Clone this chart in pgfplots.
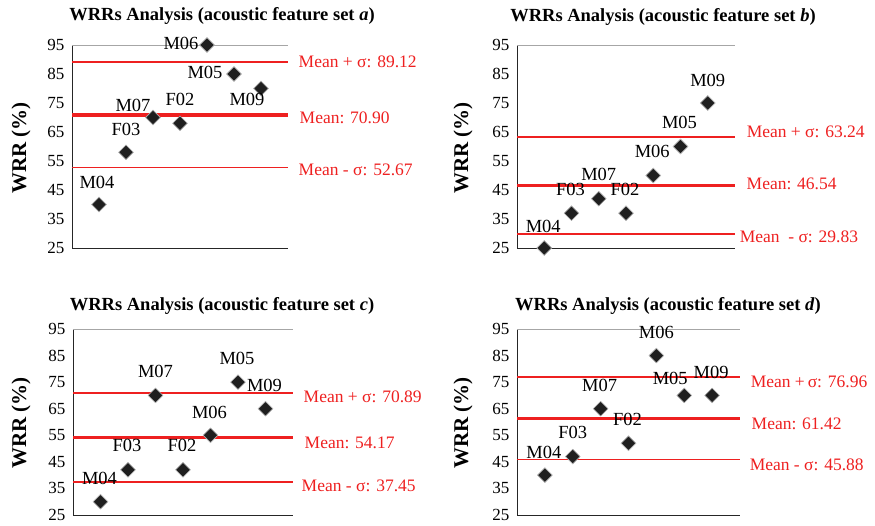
\documentclass[border=0pt]{standalone}
\usepackage{fontspec}
\setmainfont{Liberation Serif}
\usepackage{pgfplots}
\usepackage{pgfplotstable}
\pgfplotsset{compat=1.18}
\definecolor{meanred}{HTML}{EE2020}

% x = speaker slot, y = WRR, dx/dy = label offset (pt)
\pgfplotstableread{
x y lbl dx dy
1 40 M04 -2 22
2 58 F03 0 23
3 70 M07 -20 12
4 68 F02 0 24
5 95 M06 -26 2
6 85 M05 -29 2
7 80 M09 -14 -11
}\seta
\pgfplotstableread{
x y lbl dx dy
1 25 M04 -1 22
2 37 F03 -1 24
3 42 M07 0 24
4 37 F02 -1 24
5 50 M06 -1 24
6 60 M05 -1 24
7 75 M09 0 23
}\setb
\pgfplotstableread{
x y lbl dx dy
1 30 M04 -1 23
2 42 F03 -1 24
3 70 M07 0 24
4 42 F02 -1 24
5 55 M06 -1 23
6 75 M05 -1 24
7 65 M09 -1 23
}\setc
\pgfplotstableread{
x y lbl dx dy
1 40 M04 -1 23
2 47 F03 0 24
3 65 M07 -1 23
4 52 F02 -1 24
5 85 M06 0 23
6 70 M05 -14 17
7 70 M09 -1 23
}\setd

\pgfplotsset{
  wrr/.style={
    scale only axis, anchor=south west, clip=false,
    xmin=0, xmax=8, ymin=25, ymax=95,
    xtick=\empty, ytick={25,35,...,95},
    axis x line*=bottom, axis y line*=left,
    axis line style={-, line width=0.9pt, black!85},
    major tick length=0pt,
    extra y ticks={95}, extra y tick labels={},
    extra y tick style={grid=major, major grid style={gray!70, line width=0.9pt}},
    yticklabel style={font=\fontsize{17}{17}\selectfont, xshift=-4pt},
    /pgf/number format/assume math mode=true,
  },
  pts/.style={
    only marks, mark=square*, mark size=5.2pt,
    mark options={rotate=45, fill=black!88, draw=gray!60, line width=0.6pt},
    point meta=explicit symbolic,
    visualization depends on={\thisrow{dx} \as \dx},
    visualization depends on={\thisrow{dy} \as \dy},
    nodes near coords,
    nodes near coords style={anchor=center, xshift=\dx pt, yshift=\dy pt,
      font=\fontsize{18.5}{19}\selectfont, text=black, inner sep=0pt},
  },
  thinmean/.style={meanred, line width=1.5pt},
  thickmean/.style={meanred, line width=3.4pt},
}
\tikzset{
  meanlbl/.style={anchor=west, inner sep=0pt, text=meanred,
    font=\fontsize{17.5}{19}\selectfont},
  ttl/.style={font=\bfseries\fontsize{18.5}{19}\selectfont, inner sep=0pt},
  yl/.style={font=\bfseries\fontsize{21}{21}\selectfont, rotate=90, inner sep=0pt},
}

\begin{document}
\begin{tikzpicture}
\path[use as bounding box] (0pt,0pt) rectangle (875pt,526pt);

% ---- panel a
\begin{axis}[wrr, at={(72pt,278pt)}, width=216pt, height=203pt]
  \addplot[thinmean] coordinates {(0,89.12) (8,89.12)}
    node[meanlbl, pos=1, xshift=10pt] {Mean + σ: 89.12};
  \addplot[thickmean] coordinates {(0,70.90) (8,70.90)}
    node[meanlbl, pos=1, xshift=10pt, yshift=-3pt] {Mean: 70.90};
  \addplot[thinmean] coordinates {(0,52.67) (8,52.67)}
    node[meanlbl, pos=1, xshift=10pt, yshift=-2pt] {Mean - σ: 52.67};
  \addplot[pts] table[x=x, y=y, meta=lbl] {\seta};
\end{axis}

% ---- panel b
\begin{axis}[wrr, at={(517pt,278pt)}, width=218pt, height=203pt]
  \addplot[thinmean] coordinates {(0,63.24) (8,63.24)}
    node[meanlbl, pos=1, xshift=11pt, yshift=5pt] {Mean + σ: 63.24};
  \addplot[thickmean] coordinates {(0,46.54) (8,46.54)}
    node[meanlbl, pos=1, xshift=10pt, yshift=2pt] {Mean: 46.54};
  \addplot[thinmean] coordinates {(0,29.83) (8,29.83)}
    node[meanlbl, pos=1, xshift=4pt, yshift=-3pt] {Mean\ \ - σ: 29.83};
  \addplot[pts] table[x=x, y=y, meta=lbl] {\setb};
\end{axis}

% ---- panel c
\begin{axis}[wrr, at={(73pt,11pt)}, width=220pt, height=186pt]
  \addplot[thinmean] coordinates {(0,70.89) (8,70.89)}
    node[meanlbl, pos=1, xshift=10pt, yshift=-4pt] {Mean + σ: 70.89};
  \addplot[thickmean] coordinates {(0,54.17) (8,54.17)}
    node[meanlbl, pos=1, xshift=10pt, yshift=-5pt] {Mean: 54.17};
  \addplot[thinmean] coordinates {(0,37.45) (8,37.45)}
    node[meanlbl, pos=1, xshift=8pt, yshift=-4pt] {Mean - σ: 37.45};
  \addplot[pts] table[x=x, y=y, meta=lbl] {\setc};
\end{axis}

% ---- panel d
\begin{axis}[wrr, at={(517pt,11pt)}, width=223pt, height=186pt]
  \addplot[thinmean] coordinates {(0,76.96) (8,76.96)}
    node[meanlbl, pos=1, xshift=10pt, yshift=-5pt] {Mean +\,σ: 76.96};
  \addplot[thickmean] coordinates {(0,61.42) (8,61.42)}
    node[meanlbl, pos=1, xshift=10pt, yshift=-6pt] {Mean: 61.42};
  \addplot[thinmean] coordinates {(0,45.88) (8,45.88)}
    node[meanlbl, pos=1, xshift=9pt, yshift=-5pt] {Mean - σ: 45.88};
  \addplot[pts] table[x=x, y=y, meta=lbl] {\setd};
\end{axis}

% titles and y labels
\node[ttl] at (222pt,510pt) {WRRs Analysis (acoustic feature set \textit{a})};
\node[ttl] at (663pt,509pt) {WRRs Analysis (acoustic feature set \textit{b})};
\node[ttl] at (222pt,220pt) {WRRs Analysis (acoustic feature set \textit{c})};
\node[ttl] at (668pt,220pt) {WRRs Analysis (acoustic feature set \textit{d})};
\node[yl] at (21pt,378pt) {WRR (\%)};
\node[yl] at (463pt,378pt) {WRR (\%)};
\node[yl] at (21pt,103pt) {WRR (\%)};
\node[yl] at (463pt,103pt) {WRR (\%)};
\end{tikzpicture}
\end{document}
